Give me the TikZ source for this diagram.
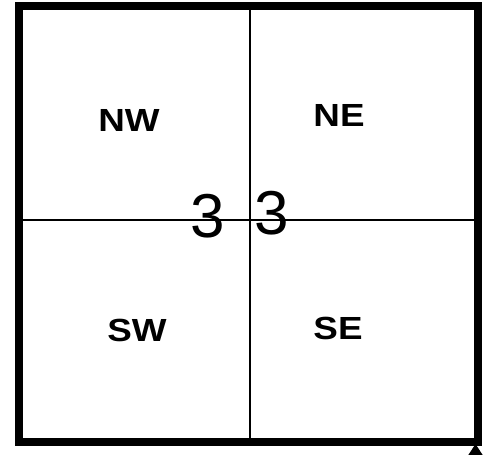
\documentclass[tikz,border=0pt]{standalone}
\usepackage{fontspec}
\setmainfont{Liberation Sans}
\begin{document}
\begin{tikzpicture}[x=1pt,y=-1pt,
  lab/.style={font=\fontsize{32}{32}\selectfont\bfseries, inner sep=0pt, anchor=center, xscale=1.15},
  hand/.style={font=\fontsize{62}{62}\selectfont, inner sep=0pt, anchor=center},
  thin/.style={line width=1.4pt}]
\useasboundingbox (0,0) rectangle (494,454);
\fill[white] (0,0) rectangle (494,454);
\node[draw, line width=8pt, minimum width=459pt, minimum height=436pt, inner sep=0pt] (box) at (248.5,224) {};
\coordinate (top) at (250,6);
\coordinate (bot) at (250,442);
\coordinate (lft) at (19,220);
\coordinate (rgt) at (478,220);
\draw[thin] (top) -- (bot);
\draw[thin] (lft) -- (rgt);
\node[lab] (nw) at (129,120) {NW};
\node[lab] (ne) at (339,115) {NE};
\node[lab] (sw) at (137,330) {SW};
\node[lab] (se) at (338,328) {SE};
\node[hand] (t1) at (208,216) {3};
\node[hand] (t2) at (272,213) {3};
\fill (467,457) -- (475.5,444) -- (484,457) -- cycle;
\end{tikzpicture}
\end{document}
